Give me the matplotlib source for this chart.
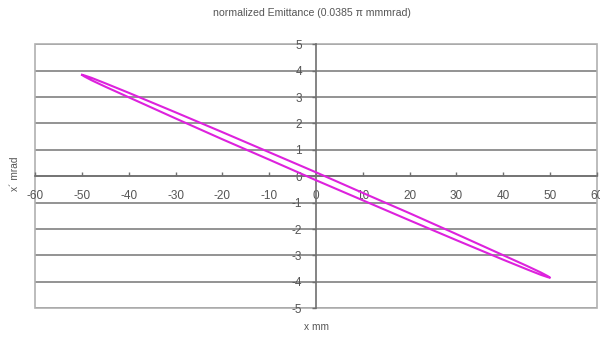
import matplotlib
matplotlib.use("Agg")
import matplotlib.pyplot as plt
from matplotlib.patches import Rectangle

plt.rcParams["font.family"] = ["Liberation Sans", "DejaVu Sans"]

# Phase-space ellipse boundary: upper branch left to right, lower branch right to left
x_upper = [-50, -49.5, -48, -45, -40, -30, -20, -10, 0, 10, 20, 30, 40, 45, 48, 49.5, 50]
xp_upper = [3.84, 3.82, 3.73, 3.52, 3.16, 2.42, 1.67, 0.91, 0.15, -0.63, -1.40, -2.19, -2.99, -3.39, -3.64, -3.78, -3.84]
x_lower = [50, 49.5, 48, 45, 40, 30, 20, 10, 0, -10, -20, -30, -40, -45, -48, -49.5, -50]
xp_lower = [-3.84, -3.82, -3.73, -3.52, -3.16, -2.42, -1.67, -0.91, -0.15, 0.63, 1.40, 2.19, 2.99, 3.39, 3.64, 3.78, 3.84]

x_ticks = [-60, -50, -40, -30, -20, -10, 0, 10, 20, 30, 40, 50, 60]
y_ticks = [-5, -4, -3, -2, -1, 0, 1, 2, 3, 4, 5]

title = "normalized Emittance (0.0385 \u03c0 mmmrad)"
x_label = "x mm"
y_label = "x\u00b4 mrad"

text_color = "#555555"
grid_color = "#8a8a8a"
frame_color = "#b0b0b0"

fig = plt.figure(figsize=(6.0, 3.38), dpi=100)
ax = fig.add_axes([0.0588, 0.0879, 0.9359, 0.7811])

ax.set_xlim(-60, 60)
ax.set_ylim(-5, 5)

# horizontal gridlines at every integer
for yv in y_ticks:
    ax.axhline(yv, color=grid_color, lw=1.3, zorder=1)

# outer frame
ax.add_patch(Rectangle((0, 0), 1, 1, transform=ax.transAxes, fill=False,
                       edgecolor=frame_color, lw=1.2, zorder=1, clip_on=False))

for side in ["top", "right"]:
    ax.spines[side].set_visible(False)
for side in ["left", "bottom"]:
    ax.spines[side].set_position(("data", 0))
    ax.spines[side].set_color("#707070")
    ax.spines[side].set_linewidth(1.2)
    ax.spines[side].set_zorder(2)

ax.set_xticks(x_ticks)
ax.set_yticks(y_ticks)
ax.set_xticklabels([str(v) for v in x_ticks])
ax.set_yticklabels([str(v) for v in y_ticks])
ax.tick_params(axis="x", direction="in", length=3, width=1, color="#707070",
               pad=10, labelsize=8.5, labelcolor=text_color)
ax.tick_params(axis="y", direction="out", length=3, width=1, color="#707070",
               pad=7, labelsize=8.5, labelcolor=text_color)
for lbl in ax.get_xticklabels() + ax.get_yticklabels():
    lbl.set_clip_on(False)

# ellipse outline
xs = x_upper + x_lower
ys = xp_upper + xp_lower
ax.plot(xs, ys, color="#dd22dd", lw=1.5, zorder=3, solid_joinstyle="round")

fig.text(0.52, 0.962, title, ha="center", va="center", fontsize=7.6, color=text_color)
fig.text(0.527, 0.033, x_label, ha="center", va="center", fontsize=7.3, color=text_color)
fig.text(0.025, 0.485, y_label, ha="center", va="center", rotation=90, fontsize=7.3,
         color=text_color)

fig.savefig("out.png", dpi=100)
